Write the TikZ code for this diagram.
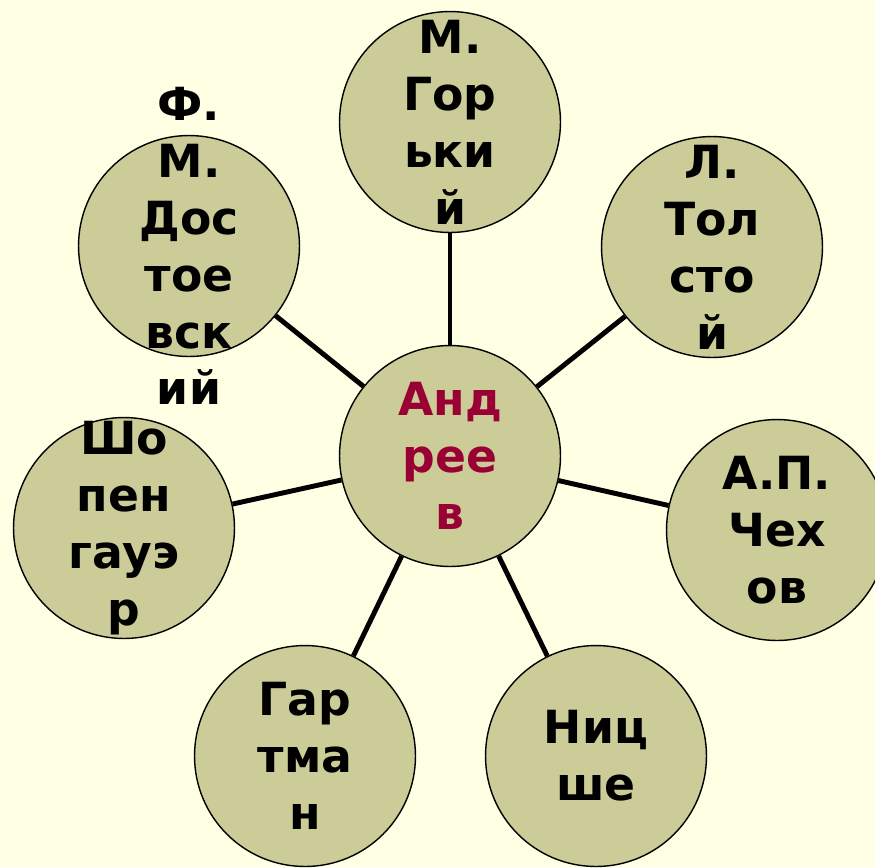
\documentclass[tikz,border=0pt]{standalone}
\usepackage{fontspec}
\setmainfont{DejaVu Sans}
\usepackage{xcolor}
\usepackage{tikz}
\usetikzlibrary{positioning,calc}

\definecolor{paper}{HTML}{FFFFE3}
\definecolor{ballfill}{HTML}{CCCC99}
\definecolor{wine}{HTML}{990033}

\tikzset{
  ball/.style={circle, draw=black, fill=ballfill, line width=0.8pt, minimum size=4.42cm, inner sep=0pt},
  word/.style={align=center, inner sep=0pt, font=\fontsize{26}{32.4}\selectfont\bfseries},
  link/.style={line width=2.8pt}
}

\begin{document}
\begin{tikzpicture}[x=0.02cm, y=-0.02cm]
\clip (0,0) rectangle (875,867);
\fill[paper] (0,0) rectangle (875,867);

% circles
\node[ball] (andreev) at (450,456) {};
\node[ball] (gorky) at (450,122) {};
\node[ball] (tolstoy) at (712,247) {};
\node[ball] (chekhov) at (777,530) {};
\node[ball] (nietzsche) at (596,756) {};
\node[ball] (hartmann) at (305,756) {};
\node[ball] (schopen) at (124,528) {};
\node[ball] (dostoev) at (189,246) {};

% links
\foreach \n in {gorky,tolstoy,chekhov,nietzsche,hartmann,schopen,dostoev}
  \draw[link] (andreev) -- (\n);

% names
\node[word, text=wine] (andreevtxt) at (andreev) {Анд\\рее\\в};
\node[word] (gorkytxt) at (gorky) {М.\\Гор\\ьки\\й};
\node[word] (tolstoytxt) at (tolstoy) {Л.\\Тол\\сто\\й};
\node[word] (chekhovtxt) at (chekhov) {А.П.\\Чех\\ов};
\node[word] (nietzschetxt) at (nietzsche) {Ниц\\ше};
\node[word] (hartmanntxt) at (hartmann) {Гар\\тма\\н};
\node[word] (schopentxt) at (schopen) {Шо\\пен\\гауэ\\р};
\node[word] (dostoevtxt) at (dostoev) {Ф.\\М.\\Дос\\тое\\вск\\ий};
\end{tikzpicture}
\end{document}
